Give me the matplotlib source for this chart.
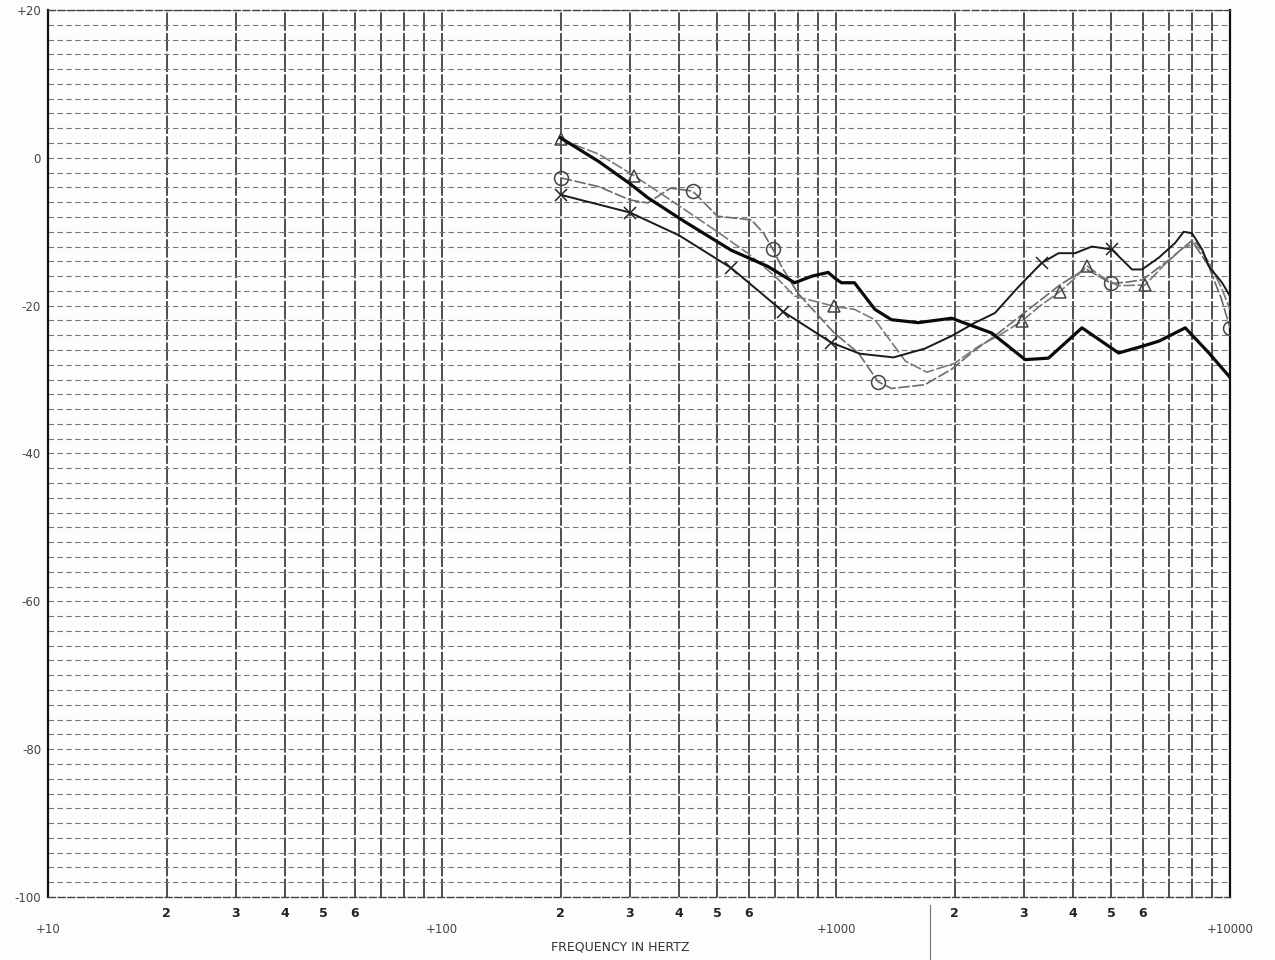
import matplotlib
matplotlib.use("Agg")
import matplotlib.pyplot as plt
from matplotlib.ticker import LogLocator, FixedLocator, FuncFormatter, MultipleLocator
import numpy as np

# ---------------- data ----------------
thick_f = [200, 250, 300, 333, 412, 542, 672, 785, 870, 955, 1000, 1032, 1114, 1255, 1383,
           1617, 1965, 2484, 3020, 3461, 4210, 5215, 5980, 6600, 7700, 8840, 10000]
thick_db = [2.7, -0.5, -3.5, -5.4, -8.6, -12.5, -14.7, -16.9, -16.0, -15.5, -16.4, -16.9, -16.9,
            -20.5, -21.9, -22.3, -21.7, -23.7, -27.3, -27.1, -23.0, -26.4, -25.5, -24.8, -23.0,
            -26.4, -29.7]

x_f = [200, 300, 400, 542, 734, 973, 1150, 1400, 1682, 1965, 2254, 2531, 2900, 3330, 3672,
       4044, 4460, 5012, 5640, 5980, 6600, 7260, 7630, 8010, 8500, 8840, 9550, 10000]
x_db = [-5.0, -7.4, -10.5, -14.9, -20.8, -25.0, -26.5, -27.0, -25.8, -24.1, -22.3, -21.0,
        -17.5, -14.2, -12.9, -12.9, -12.0, -12.4, -15.1, -15.1, -13.5, -11.5, -10.0, -10.2,
        -12.4, -14.7, -16.9, -18.7]
x_mark = [0, 1, 3, 4, 5, 13, 17]

tri_f = [200, 250, 307, 400, 500, 600, 700, 785, 991, 1114, 1255, 1500, 1700, 2000, 2300,
         2600, 2960, 3300, 3700, 4000, 4330, 4700, 5200, 6090, 6800, 7600, 8200, 8800, 9500, 10000]
tri_db = [2.5, 0.5, -2.4, -6.5, -10.0, -13.0, -16.0, -18.7, -20.1, -20.5, -21.9, -27.5, -29.0,
          -27.8, -25.5, -24.0, -22.1, -20.0, -18.1, -16.5, -14.6, -16.0, -17.3, -17.2, -14.5,
          -12.2, -11.5, -14.0, -17.5, -20.5]
tri_mark = [0, 2, 8, 16, 18, 20, 23]

circ_f = [200, 250, 300, 333, 380, 433, 500, 610, 655, 692, 727, 800, 990, 1140, 1279, 1383,
          1680, 1965, 2254, 2530, 3000, 3700, 4300, 5000, 5500, 6000, 7000, 8000, 8800, 9500, 10000]
circ_db = [-2.7, -3.9, -5.7, -6.1, -4.1, -4.5, -7.9, -8.4, -10.2, -12.4, -14.7, -18.3, -23.7,
           -26.4, -30.3, -31.2, -30.7, -28.6, -26.0, -24.1, -21.0, -17.2, -15.0, -17.0, -16.8,
           -16.5, -13.8, -11.2, -14.5, -19.0, -23.0]
circ_mark = [0, 5, 9, 14, 23, 30]

y_ticks = [20, 0, -20, -40, -60, -80, -100]
y_labels = ["+20", "0", "-20", "-40", "-60", "-80", "-100"]
x_major = [10, 100, 1000, 10000]
x_major_labels = ["+10", "+100", "+1000", "+10000"]
x_minor_labelled = [2, 3, 4, 5, 6]
x_title = "FREQUENCY IN HERTZ"

# ---------------- figure ----------------
fig = plt.figure(figsize=(12.75, 9.6), dpi=100)
fig.patch.set_facecolor("#fdfdfd")
L, R, T, B = 48 / 1275, 1230 / 1275, 1 - 10 / 960, 1 - 897 / 960
ax = fig.add_axes([L, B, R - L, T - B])
ax.set_facecolor("#fdfdfd")
ax.set_xscale("log")
ax.set_xlim(10, 10000)
ax.set_ylim(-100, 20)

# grid
ax.xaxis.set_major_locator(FixedLocator(x_major))
ax.xaxis.set_minor_locator(LogLocator(base=10, subs=np.arange(2, 10)))
ax.set_xticks(x_major)
ax.set_xticklabels(x_major_labels)


def minor_fmt(v, pos):
    m = v / 10 ** np.floor(np.log10(v) + 1e-9)
    d = int(round(m))
    return str(d) if d in x_minor_labelled and abs(m - d) < 1e-6 else ""


ax.xaxis.set_minor_formatter(FuncFormatter(minor_fmt))
ax.set_yticks(y_ticks)
ax.set_yticklabels(y_labels)
ax.yaxis.set_minor_locator(MultipleLocator(2))

ax.grid(axis="x", which="both", color="#1e1e1e", lw=1.1, ls=(0, (12, 1.5)))
ax.grid(axis="y", which="both", color="#777777", lw=0.8, ls=(0, (5, 3)))
ax.set_axisbelow(True)

ax.tick_params(axis="both", which="both", length=0)
ax.tick_params(axis="x", which="minor", pad=7, labelsize=9, labelcolor="#222222")
ax.tick_params(axis="x", which="major", pad=19, labelsize=8.5, labelcolor="#444444")
ax.tick_params(axis="y", which="major", pad=5, labelsize=8.5, labelcolor="#444444")
for lab in ax.get_xticklabels(minor=True):
    lab.set_fontweight("bold")

for side in ["left", "right"]:
    ax.spines[side].set_color("#111111")
    ax.spines[side].set_linewidth(1.6)
for side in ["top", "bottom"]:
    ax.spines[side].set_color("#444444")
    ax.spines[side].set_linewidth(1.0)
    ax.spines[side].set_linestyle((0, (5, 2)))

# ---------------- curves ----------------
ax.plot(circ_f, circ_db, color="#6a6a6a", lw=1.2, ls=(0, (7, 1.5)),
        marker="o", markevery=circ_mark, ms=10, mfc="none", mec="#444444", mew=1.1, zorder=3)
ax.plot(tri_f, tri_db, color="#7a7a7a", lw=1.2, ls=(0, (7, 1.5)),
        marker="^", markevery=tri_mark, ms=8, mfc="none", mec="#444444", mew=1.1, zorder=3)
ax.plot(x_f, x_db, color="#1a1a1a", lw=1.4,
        marker="x", markevery=x_mark, ms=9, mec="#222222", mew=1.1, zorder=4)
ax.plot(thick_f, thick_db, color="#0a0a0a", lw=2.3, zorder=5)

# ---------------- axis title ----------------
fig.text(620 / 1275, 1 - 947 / 960, x_title, ha="center", va="center",
         fontsize=9, color="#333333")
fig.add_artist(plt.Line2D([930 / 1275, 930 / 1275], [0.0, 1 - 905 / 960],
                          color="#777777", lw=0.8, transform=fig.transFigure))

fig.savefig("out.png", dpi=100, facecolor=fig.get_facecolor())
